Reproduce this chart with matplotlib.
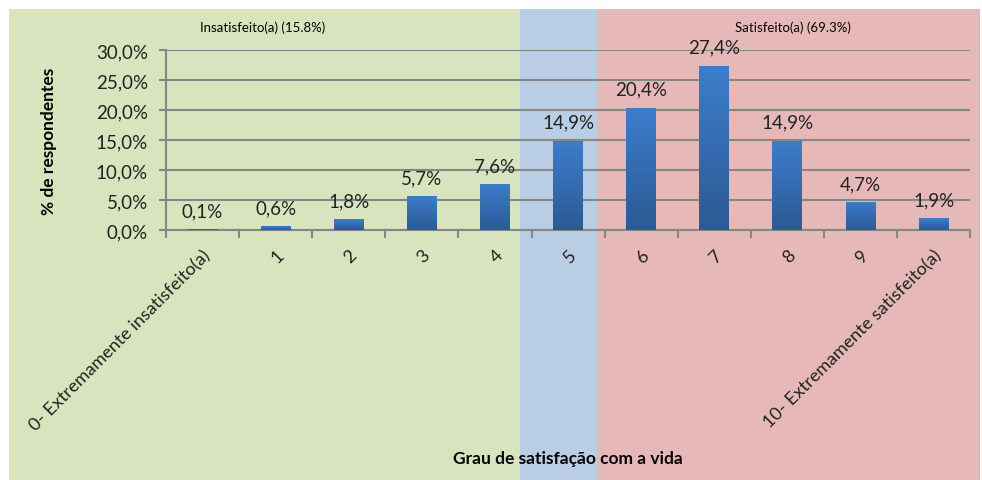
import numpy as np
import matplotlib.pyplot as plt
from matplotlib.patches import Rectangle
from matplotlib.transforms import blended_transform_factory
from matplotlib.ticker import FuncFormatter, FixedLocator
from matplotlib.colors import LinearSegmentedColormap

plt.rcParams['font.family'] = ['Lato', 'DejaVu Sans']

categorias = ["0- Extremamente insatisfeito(a)", "1", "2", "3", "4", "5",
              "6", "7", "8", "9", "10- Extremamente satisfeito(a)"]
valores = [0.1, 0.6, 1.8, 5.7, 7.6, 14.9, 20.4, 27.4, 14.9, 4.7, 1.9]
yticks = [0, 5, 10, 15, 20, 25, 30]

fig = plt.figure(figsize=(9.82, 4.81), dpi=100)
ax = fig.add_axes([0.169, 0.520, 0.819, 0.374])
ax.patch.set_visible(False)

x = np.arange(len(valores))
bars = ax.bar(x, valores, width=0.41, color="#3a78c5", zorder=3)

# gradiente das barras
grad = np.linspace(0, 1, 100).reshape(-1, 1)
cmap = LinearSegmentedColormap.from_list("b", ["#2c5a93", "#3d7dcc"])
for b in bars:
    im = ax.imshow(grad, extent=(b.get_x(), b.get_x() + b.get_width(), 0, b.get_height()),
                   origin="lower", cmap=cmap, aspect="auto", zorder=3.5)
    im.set_clip_path(b)

ax.set_xlim(-0.5, len(valores) - 0.5)
ax.set_ylim(0, 30)
ax.set_yticks(yticks)
ax.yaxis.set_major_formatter(FuncFormatter(lambda v, p: f"{v:.1f}%".replace(".", ",")))
ax.grid(axis="y", color="#868686", lw=1.5, zorder=1)
for s in ["top", "right"]:
    ax.spines[s].set_visible(False)
for s in ["left", "bottom"]:
    ax.spines[s].set_color("#868686")
    ax.spines[s].set_linewidth(1.5)
ax.tick_params(axis="y", colors="#868686", length=5, width=1.5, pad=8, labelsize=13.5, labelcolor="#222222")

ax.set_xticks(x)
ax.set_xticklabels(categorias, rotation=45, ha="right", rotation_mode="anchor", fontsize=13, color="#222222")
ax.xaxis.set_minor_locator(FixedLocator(np.arange(-0.5, len(valores), 1)))
ax.tick_params(axis="x", which="major", length=0, pad=12)
ax.tick_params(axis="x", which="minor", length=6, width=1.5, color="#868686")

for xi, v in zip(x, valores):
    ax.annotate(f"{v:.1f}%".replace(".", ","), (xi, v), xytext=(0, 7), textcoords="offset points",
                ha="center", va="bottom", fontsize=13.5, color="#222222", zorder=5)

ax.set_ylabel("% de respondentes", fontsize=12.5, fontweight="bold", labelpad=28)

# fundo colorido por zonas
tr = blended_transform_factory(ax.transData, fig.transFigure)
inv = ax.transData.inverted()
x_esq = inv.transform(fig.transFigure.transform((9 / 982, 0)))[0]
x_dir = inv.transform(fig.transFigure.transform((980 / 982, 0)))[0]
zonas = [(x_esq, 4.34, "#d7e4bd"), (4.34, 5.39, "#b9cde5"), (5.39, x_dir, "#e6b9b8")]
for a, b, c in zonas:
    r = Rectangle((a, 0), b - a, 1 - 10 / 481, transform=tr, facecolor=c, edgecolor="none",
                  zorder=-1, clip_on=False)
    fig.add_artist(r)

fig.text(263 / 982, 1 - 28 / 481, "Insatisfeito(a) (15.8%)", ha="center", va="center", fontsize=9.5)
fig.text(793 / 982, 1 - 28 / 481, "Satisfeito(a) (69.3%)", ha="center", va="center", fontsize=9.5)
fig.text(568 / 982, 1 - 459 / 481, "Grau de satisfação com a vida", ha="center", va="center",
         fontsize=12.5, fontweight="bold")

fig.savefig("out.png", dpi=100)
